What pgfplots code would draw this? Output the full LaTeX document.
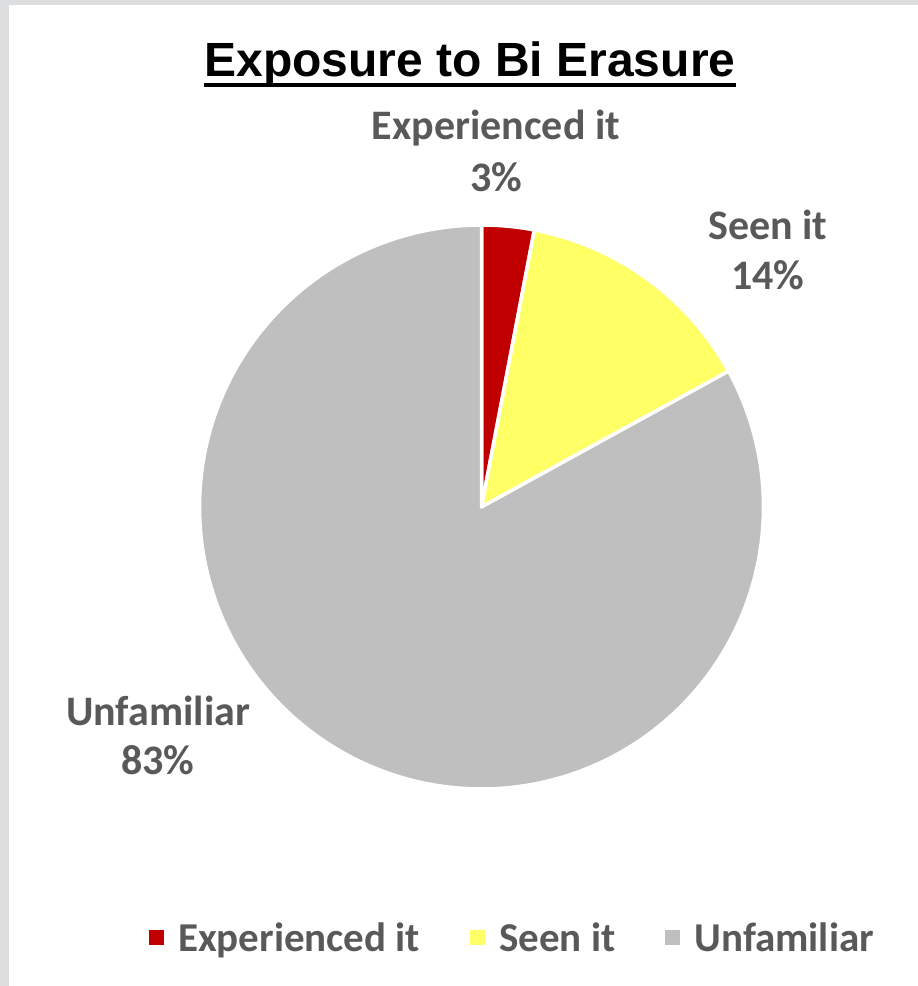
\documentclass[border=0pt]{standalone}
\usepackage{pgfplots}
\pgfplotsset{compat=1.18}
\usepackage{pgfplotstable}
\usepackage{fontspec}
\newfontfamily\arialfont{Liberation Sans}
\newfontfamily\calfont{Carlito}
\definecolor{expred}{HTML}{C00000}
\definecolor{seenyel}{HTML}{FFFF66}
\definecolor{unfgray}{HTML}{BFBFBF}
\definecolor{lbl}{HTML}{595959}
\definecolor{framegray}{HTML}{DCDDDE}

\pgfplotstableread{
label value
Experienced 3
Seen 14
Unfamiliar 83
}\piedata

\begin{document}%
\begin{tikzpicture}[x=1pt,y=1pt]
\pgfplotstablegetelem{0}{value}\of\piedata \let\vA\pgfplotsretval
\pgfplotstablegetelem{1}{value}\of\piedata \let\vB\pgfplotsretval
\pgfplotstablegetelem{2}{value}\of\piedata \let\vC\pgfplotsretval
\pgfmathsetmacro\aA{90}
\pgfmathsetmacro\aB{90-3.6*\vA}
\pgfmathsetmacro\aC{\aB-3.6*\vB}
\pgfmathsetmacro\aD{\aC-3.6*\vC}
\fill[framegray] (0,0) rectangle (918,986);
\fill[white] (9,0) rectangle (918,981);
\node[font=\arialfont\bfseries\fontsize{48}{56}\selectfont, anchor=base, inner sep=0] (T) at (470,909) {Exposure to Bi Erasure};
\fill ([yshift=-6pt]T.base west) rectangle ([yshift=-10pt]T.base east);
\begin{axis}[at={(481.5pt,479pt)}, anchor=center, x=282pt, y=282pt,
  xmin=-1, xmax=1, ymin=-1, ymax=1, hide axis, clip=false,
  legend columns=3,
  legend style={at={(0.555,-0.264)}, anchor=center, draw=none, fill=none,
    font=\calfont\bfseries\fontsize{41}{48}\selectfont, text=lbl,
    /tikz/every odd column/.append style={column sep=12pt},
    /tikz/every even column/.append style={column sep=48pt}},
  legend image code/.code={\fill[#1,draw=none] (0pt,-7.5pt) rectangle (15pt,7.5pt);}]
\addplot[fill=expred, draw=white, line width=3.5pt, line join=round, data cs=polar, domain=\aB:\aA, samples=30] {1} -- (axis cs:0,0) -- cycle;
\addplot[fill=seenyel, draw=white, line width=3.5pt, line join=round, data cs=polar, domain=\aC:\aB, samples=60] {1} -- (axis cs:0,0) -- cycle;
\addplot[fill=unfgray, draw=white, line width=3.5pt, line join=round, data cs=polar, domain=\aD:\aC, samples=240] {1} -- (axis cs:0,0) -- cycle;
\legend{Experienced it, Seen it, Unfamiliar}
\end{axis}
\begin{scope}[every node/.style={font=\calfont\bfseries\fontsize{42}{48}\selectfont, text=lbl, anchor=base, inner sep=0}]
\node at (496,846) {Experienced it};
\node at (496,794) {3\%};
\node at (768,746) {Seen it};
\node at (768,696) {14\%};
\node at (158,260) {Unfamiliar};
\node at (158,211) {83\%};
\end{scope}
\end{tikzpicture}%
\end{document}
